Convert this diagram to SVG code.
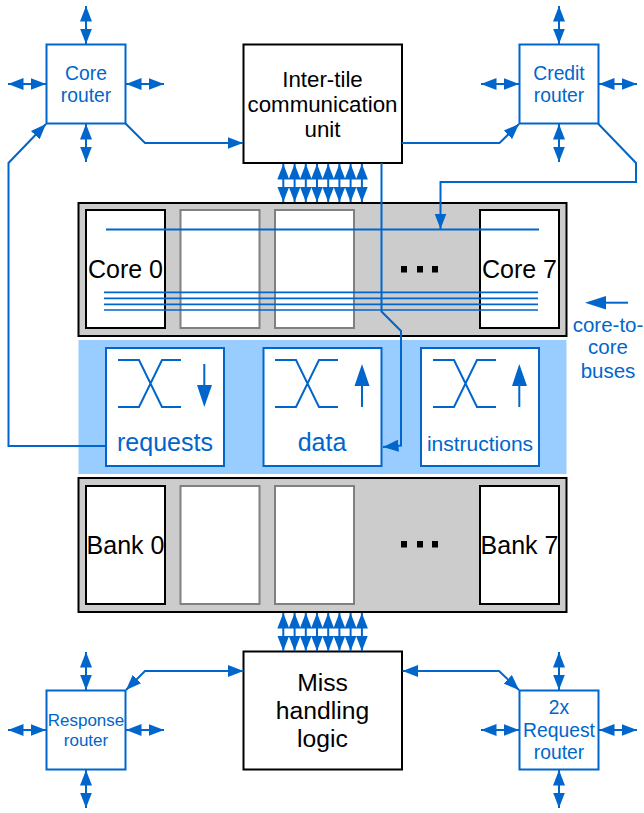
<svg xmlns="http://www.w3.org/2000/svg" xmlns:xlink="http://www.w3.org/1999/xlink" width="644" height="813" viewBox="0 0 644 813">
<style>
text{font-family:"Liberation Sans",Arial,sans-serif;text-anchor:middle}
.k{fill:#000}
.b{fill:#0066cc}
.wire{fill:none;stroke:#0066cc;stroke-width:2}
.thin{fill:none;stroke:#0066cc;stroke-width:1.7}
.blue{fill:#fff;stroke:#0066cc;stroke-width:2}
.blk{fill:#fff;stroke:#000;stroke-width:2}
.gr{fill:#fff;stroke:#808080;stroke-width:2}
.pan{fill:#cccccc;stroke:#000;stroke-width:2}
.h{fill:#0066cc}
</style>
<defs>
<marker id="a" markerUnits="userSpaceOnUse" markerWidth="16" markerHeight="12" refX="15.500" refY="6" orient="auto-start-reverse"><path d="M0 0L15.500 6L0 12z" class="h"/></marker>
<path id="vv" d="M0 0V38" class="wire" marker-start="url(#a)" marker-end="url(#a)"/>
<path id="hh" d="M0 0H38" class="wire" marker-start="url(#a)" marker-end="url(#a)"/>
<g id="xbar"><path d="M0 0H21L44 47H63M0 47H21L44 0H63" class="wire"/></g>
</defs>

<g id="panel-core"><rect x="78.500" y="203" width="488" height="133" class="pan"/></g>
<g id="panel-bus"><rect x="78.500" y="340" width="488" height="134" fill="#99ccff"/></g>
<g id="panel-bank"><rect x="78.500" y="478" width="488" height="134" class="pan"/></g>

<g id="core0"><rect x="86" y="210" width="79" height="118" class="blk"/><text x="125.500" y="278" font-size="25" class="k">Core 0</text></g>
<g id="core1"><rect x="180.500" y="210" width="79" height="118" class="gr"/></g>
<g id="core2"><rect x="275" y="210" width="79" height="118" class="gr"/></g>
<g id="core7"><rect x="480" y="210" width="79" height="118" class="blk"/><text x="519.500" y="278" font-size="25" class="k">Core 7</text></g>
<g id="core-dots"><rect x="401" y="266" width="6" height="6.500"/><rect x="417" y="266" width="6" height="6.500"/><rect x="432" y="266" width="6" height="6.500"/></g>

<g id="bank0"><rect x="86" y="486" width="79" height="118" class="blk"/><text x="125.500" y="554" font-size="25" class="k">Bank 0</text></g>
<g id="bank1"><rect x="180.500" y="486" width="79" height="118" class="gr"/></g>
<g id="bank2"><rect x="275" y="486" width="79" height="118" class="gr"/></g>
<g id="bank7"><rect x="480" y="486" width="79" height="118" class="blk"/><text x="519.500" y="554" font-size="25" class="k">Bank 7</text></g>
<g id="bank-dots"><rect x="401" y="541" width="6" height="6.500"/><rect x="417" y="541" width="6" height="6.500"/><rect x="432" y="541" width="6" height="6.500"/></g>

<g id="requests"><rect x="106" y="348" width="118" height="118" class="blue"/><use xlink:href="#xbar" x="118" y="360"/><path d="M204.300 364V390" class="wire"/><path d="M197 385H212L204.300 407z" class="h"/><text x="165" y="451" font-size="25" class="b">requests</text></g>
<g id="data"><rect x="263.500" y="348" width="118" height="118" class="blue"/><use xlink:href="#xbar" x="275" y="360"/><path d="M362 407V380" class="wire"/><path d="M354.500 386H369.500L362 364z" class="h"/><text x="322" y="451" font-size="25" class="b">data</text></g>
<g id="instructions"><rect x="421" y="348" width="118" height="118" class="blue"/><use xlink:href="#xbar" x="433" y="360"/><path d="M519.300 407V380" class="wire"/><path d="M512 386H527L519.300 364z" class="h"/><text x="480" y="451" font-size="21" class="b">instructions</text></g>

<g id="inter-tile"><rect x="243.500" y="44.500" width="158.500" height="118.500" class="blk"/><text font-size="22.300" class="k"><tspan x="322.500" y="87">Inter-tile</tspan><tspan x="322.500" y="112">communication</tspan><tspan x="322.500" y="137">unit</tspan></text></g>
<g id="miss"><rect x="243.500" y="651.500" width="158.500" height="118" class="blk"/><text font-size="24.700" class="k"><tspan x="322.500" y="691">Miss</tspan><tspan x="322.500" y="719">handling</tspan><tspan x="322.500" y="747">logic</tspan></text></g>

<g id="core-router"><rect x="46.500" y="44.500" width="79" height="79" class="blue"/><text font-size="19.300" class="b"><tspan x="86" y="80">Core</tspan><tspan x="86" y="102">router</tspan></text></g>
<g id="credit-router"><rect x="519.500" y="44.500" width="79" height="79" class="blue"/><text font-size="19.300" class="b"><tspan x="559" y="80">Credit</tspan><tspan x="559" y="102">router</tspan></text></g>
<g id="response-router"><rect x="46.500" y="690.500" width="79" height="79" class="blue"/><text font-size="17" class="b"><tspan x="86" y="726">Response</tspan><tspan x="86" y="746">router</tspan></text></g>
<g id="request-router"><rect x="519.500" y="690.500" width="79" height="79" class="blue"/><text font-size="19.300" class="b"><tspan x="559" y="714">2x</tspan><tspan x="559" y="737">Request</tspan><tspan x="559" y="759">router</tspan></text></g>

<g id="label"><text font-size="20.500" class="b"><tspan x="608" y="332">core-to-</tspan><tspan x="608" y="354">core</tspan><tspan x="608" y="378">buses</tspan></text></g>

<g id="connectors">
<path d="M106 229.500H539" class="wire"/>
<path d="M104 292.300H538M104 298.300H538M104 304.300H538M104 310H538" class="thin"/>
<use xlink:href="#vv" x="86" y="6"/><use xlink:href="#vv" x="86" y="124"/><use xlink:href="#hh" x="8" y="84"/><use xlink:href="#hh" x="126" y="84"/>
<use xlink:href="#vv" x="559" y="6"/><use xlink:href="#vv" x="559" y="124"/><use xlink:href="#hh" x="481" y="84"/><use xlink:href="#hh" x="599" y="84"/>
<use xlink:href="#vv" x="86" y="652"/><use xlink:href="#vv" x="86" y="770"/><use xlink:href="#hh" x="8" y="730"/><use xlink:href="#hh" x="126" y="730"/>
<use xlink:href="#vv" x="559" y="652"/><use xlink:href="#vv" x="559" y="770"/><use xlink:href="#hh" x="481" y="730"/><use xlink:href="#hh" x="599" y="730"/>
<use xlink:href="#vv" x="283.300" y="164"/><use xlink:href="#vv" x="294.600" y="164"/><use xlink:href="#vv" x="305.800" y="164"/><use xlink:href="#vv" x="317" y="164"/><use xlink:href="#vv" x="328.200" y="164"/><use xlink:href="#vv" x="339.400" y="164"/><use xlink:href="#vv" x="350.600" y="164"/><use xlink:href="#vv" x="361.900" y="164"/>
<use xlink:href="#vv" x="283.300" y="613"/><use xlink:href="#vv" x="294.600" y="613"/><use xlink:href="#vv" x="305.800" y="613"/><use xlink:href="#vv" x="317" y="613"/><use xlink:href="#vv" x="328.200" y="613"/><use xlink:href="#vv" x="339.400" y="613"/><use xlink:href="#vv" x="350.600" y="613"/><use xlink:href="#vv" x="361.900" y="613"/>
<path d="M125.500 123.500L145 143H243" class="wire" marker-end="url(#a)"/>
<path d="M402 143H499.500L519 124" class="wire" marker-end="url(#a)"/>
<path d="M598 123.500L636 163V182H440.500V229" class="wire" marker-end="url(#a)"/>
<path d="M381.500 163V311.500L401 331V445.500L383 447" class="wire" marker-end="url(#a)"/>
<path d="M106 446H8.500V163L46 124" class="wire" marker-end="url(#a)"/>
<path d="M126 690L145 671H243.500" class="wire" marker-start="url(#a)" marker-end="url(#a)"/>
<path d="M402.500 671H499L519 690" class="wire" marker-start="url(#a)" marker-end="url(#a)"/>
<path d="M628 302.700H600" class="wire"/>
<path d="M606 296L585 302.700L606 309.500z" class="h"/>
</g>
</svg>
